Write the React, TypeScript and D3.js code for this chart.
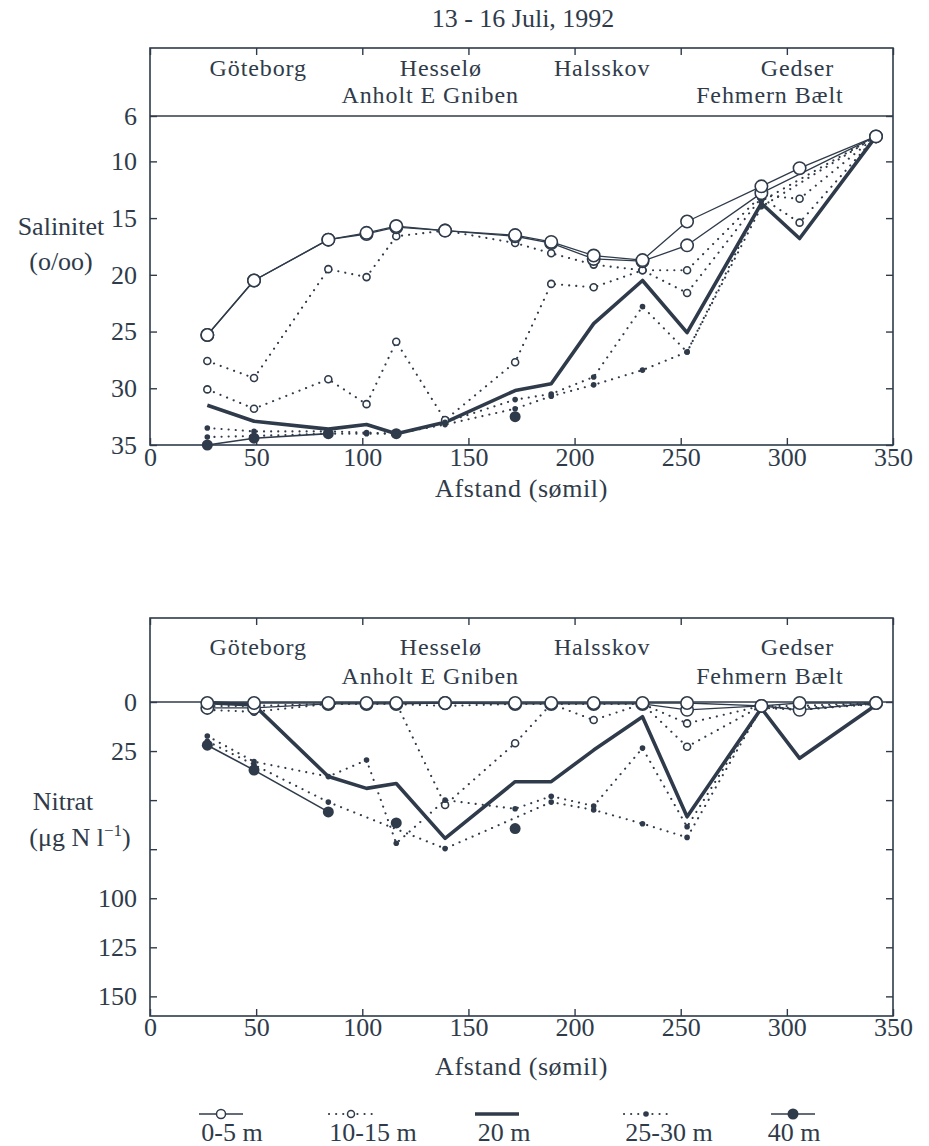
import React, { useRef, useEffect } from 'react';
import * as d3 from 'd3';

// station distances along the transect (sømil)
const stations = [27, 49, 84, 102, 116, 139, 172, 189, 209, 232, 253, 288, 306, 342];

// salinity (o/oo) by depth, null = no sample
const salt0 = [25.3, 20.5, 16.9, 16.3, 15.7, 16.1, 16.5, 17.1, 18.3, 18.7, 15.3, 12.2, 10.6, 7.8];
const salt5 = [25.3, 20.5, 16.9, 16.4, 15.8, 16.1, 16.6, 17.2, 18.6, 18.8, 17.4, 12.8, null, 7.8];
const salt10 = [27.6, 29.1, 19.5, 20.2, 16.6, 16.1, 17.2, 18.1, 19.1, 19.6, 19.6, 13.0, 13.3, 7.8];
const salt15 = [30.1, 31.8, 29.2, 31.4, 25.9, 32.8, 27.7, 20.8, 21.1, 19.6, 21.6, 13.2, 15.4, 7.8];
const salt20 = [31.5, 32.9, 33.6, 33.2, 34.0, 33.0, 30.2, 29.6, 24.3, 20.5, 25.1, 13.7, 16.8, 7.8];
const salt25 = [33.5, 33.8, 33.8, 33.9, 34.0, 33.0, 31.0, 30.5, 29.0, 22.8, 26.8, 13.5, null, 7.8];
const salt30 = [34.3, 34.2, 34.0, 34.0, 34.0, 33.2, 31.8, 30.7, 29.7, 28.4, 26.8, 14.0, null, 7.8];
const salt40 = [35.0, 34.4, 34.0, null, 34.0, null, 32.5, null, null, null, null, null, null, null];

// nitrate (µg N/l) by depth
const nit0 = [0.5, 0.5, 0.5, 0.5, 0.5, 0.5, 0.5, 0.5, 0.5, 0.5, 0.5, 2, 0.5, 0.5];
const nit5 = [3, 3, 1, 1, 1, 0.5, 1, 1, 1, 1, 4, 2, 4, 0.5];
const nit10 = [2, 2, 1, 0.5, 0.5, 52.5, 21, 1, 9.2, 1, 10.9, 2, 2, 0.5];
const nit15 = [4, 5, 1, 1, 1, 2, 1, 1, 1, 1, 22.8, 2, 4, 0.5];
const nit20 = [0.3, 1.5, 38, 44, 41.5, 69.5, 40.6, 40.6, 24.5, 7.5, 58.5, 3.2, 28.7, 1.5];
const nit25 = [17.3, 30.4, 38, 29.6, 72, 50, 54.4, 48, 53, 23.5, 63.6, 3, 3, 1];
const nit30 = [20, 32, 51, null, null, 74.7, null, 51, 55, 62, 69, 3, 4, 1];
const nit40 = [22, 34.7, 56, null, 61.6, null, 64.5, null, null, null, null, null, null, null];

// place names printed in the top band, positioned in sømil
const placeNames = ['Göteborg', 'Hesselø', 'Anholt E Gniben', 'Halsskov', 'Gedser', 'Fehmern Bælt'];
const placeAt = [51, 137, 132, 213, 305, 292];
const placeRow = [0, 0, 1, 0, 0, 1];

const distTicks = [0, 50, 100, 150, 200, 250, 300, 350];
const saltTicks = [6, 10, 15, 20, 25, 30, 35];
const nitTicks = [0, 25, 50, 75, 100, 125, 150];
const nitTickLabels = [0, 25, 100, 125, 150];
const depthGroups = ['0-5 m', '10-15 m', '20 m', '25-30 m', '40 m'];

const INK = '#2f3b4a';
const SERIF = '"Liberation Serif", "DejaVu Serif", serif';

// drawing style for each depth group
const groupStyle = {
  '0-5 m': { dash: null, width: 1.3, mark: 'ring', r: 6.2, gaps: false },
  '10-15 m': { dash: '0.1 7', width: 2.1, mark: 'ring', r: 3.5, gaps: false },
  '20 m': { dash: null, width: 3.6, mark: null, r: 0, gaps: false },
  '25-30 m': { dash: '0.1 7', width: 2.1, mark: 'dot', r: 2.8, gaps: false },
  '40 m': { dash: null, width: 1.6, mark: 'dot', r: 5.5, gaps: true },
};

const App = () => {
  const myRef = useRef(null);

  useEffect(() => {
    const svg = d3.select(myRef.current);
    svg.selectAll('*').remove();

    const x = d3.scaleLinear().domain([0, 350]).range([150, 893]);

    svg.append('text')
      .attr('x', 523).attr('y', 27)
      .attr('text-anchor', 'middle')
      .attr('font-family', SERIF).attr('font-size', 26).attr('fill', INK)
      .text('13 - 16 Juli, 1992');

    const panel = (cfg) => {
      const y = d3.scaleLinear().domain(cfg.domain).range([cfg.band, cfg.bottom]);
      const g = svg.append('g').attr('font-family', SERIF).attr('font-size', 26).attr('fill', INK);

      // frame and band line
      g.append('rect')
        .attr('x', x(0)).attr('y', cfg.top)
        .attr('width', x(350) - x(0)).attr('height', cfg.bottom - cfg.top)
        .attr('fill', 'none').attr('stroke', INK).attr('stroke-width', 1.6);
      g.append('line')
        .attr('x1', x(0)).attr('x2', x(350))
        .attr('y1', y(cfg.domain[0])).attr('y2', y(cfg.domain[0]))
        .attr('stroke', INK).attr('stroke-width', 1.6);

      const style = (sel) => {
        sel.select('.domain').remove();
        sel.attr('font-family', SERIF).attr('font-size', 26);
        sel.selectAll('line').attr('stroke', INK).attr('stroke-width', 1.4);
        sel.selectAll('text').attr('fill', INK);
      };

      g.append('g').attr('transform', `translate(${x(0)},0)`)
        .call(d3.axisLeft(y).tickValues(cfg.ticks).tickSizeInner(-7).tickSizeOuter(0).tickPadding(13)
          .tickFormat((d) => (cfg.labels.includes(d) ? String(d) : '')))
        .call(style);
      g.append('g').attr('transform', `translate(${x(350)},0)`)
        .call(d3.axisRight(y).tickValues(cfg.ticks).tickSizeInner(-7).tickSizeOuter(0).tickFormat(() => ''))
        .call(style);
      g.append('g').attr('transform', `translate(0,${cfg.bottom})`)
        .call(d3.axisBottom(x).tickValues(distTicks).tickSizeInner(-7).tickSizeOuter(0).tickPadding(cfg.xPad))
        .call(style);
      g.append('g').attr('transform', `translate(0,${cfg.top})`)
        .call(d3.axisTop(x).tickValues(distTicks).tickSizeInner(-7).tickSizeOuter(0).tickFormat(() => ''))
        .call(style);

      // place names
      placeNames.forEach((name, i) => {
        g.append('text')
          .attr('x', x(placeAt[i])).attr('y', cfg.rows[placeRow[i]])
          .attr('text-anchor', 'middle')
          .attr('font-size', 24)
          .attr('letter-spacing', 0.9)
          .text(name);
      });

      g.append('text')
        .attr('x', x(175)).attr('y', cfg.titleY)
        .attr('text-anchor', 'middle')
        .attr('letter-spacing', 0.6)
        .text('Afstand (sømil)');

      // y title
      cfg.yTitle(g);

      // data
      const plot = g.append('g');
      const line = d3.line()
        .defined((d) => d[1] != null)
        .x((d) => x(d[0]))
        .y((d) => y(d[1]));

      const drawn = cfg.series.map((s) => {
        const st = groupStyle[s.group];
        let pts = stations.map((st2, i) => [st2, s.values[i]]);
        if (!st.gaps) pts = pts.filter((p) => p[1] != null);
        return { pts, st };
      });

      drawn.forEach(({ pts, st }) => {
        plot.append('path')
          .attr('d', line(pts))
          .attr('fill', 'none')
          .attr('stroke', INK)
          .attr('stroke-width', st.width)
          .attr('stroke-linecap', st.dash ? 'round' : 'butt')
          .attr('stroke-linejoin', 'round')
          .attr('stroke-dasharray', st.dash);
      });

      drawn.forEach(({ pts, st }) => {
        if (!st.mark) return;
        plot.selectAll(null)
          .data(pts.filter((p) => p[1] != null))
          .join('circle')
          .attr('cx', (d) => x(d[0]))
          .attr('cy', (d) => y(d[1]))
          .attr('r', st.r)
          .attr('fill', st.mark === 'ring' ? 'white' : INK)
          .attr('stroke', INK)
          .attr('stroke-width', st.mark === 'ring' ? 1.6 : 0);
      });
    };

    panel({
      top: 48, band: 116, bottom: 445, xPad: 3,
      domain: [6, 35], ticks: saltTicks, labels: saltTicks,
      rows: [76, 103], titleY: 497,
      series: [
        { values: salt15, group: '10-15 m' }, { values: salt10, group: '10-15 m' },
        { values: salt30, group: '25-30 m' }, { values: salt25, group: '25-30 m' },
        { values: salt40, group: '40 m' }, { values: salt20, group: '20 m' },
        { values: salt5, group: '0-5 m' }, { values: salt0, group: '0-5 m' },
      ],
      yTitle: (g) => {
        g.append('text').attr('x', 61).attr('y', 235).attr('text-anchor', 'middle').text('Salinitet');
        g.append('text').attr('x', 61).attr('y', 270).attr('text-anchor', 'middle').text('(o/oo)');
      },
    });

    panel({
      top: 618, band: 702, bottom: 1016, xPad: 2,
      domain: [0, 160], ticks: nitTicks, labels: nitTickLabels,
      rows: [655, 684], titleY: 1075,
      series: [
        { values: nit15, group: '10-15 m' }, { values: nit10, group: '10-15 m' },
        { values: nit30, group: '25-30 m' }, { values: nit25, group: '25-30 m' },
        { values: nit40, group: '40 m' }, { values: nit20, group: '20 m' },
        { values: nit5, group: '0-5 m' }, { values: nit0, group: '0-5 m' },
      ],
      yTitle: (g) => {
        g.append('text').attr('x', 63).attr('y', 810).attr('text-anchor', 'middle').text('Nitrat');
        const t = g.append('text').attr('x', 80).attr('y', 846).attr('text-anchor', 'middle');
        t.append('tspan').text('(μg N l');
        t.append('tspan').attr('dy', -10).attr('font-size', 17).text('−1');
        t.append('tspan').attr('dy', 10).text(')');
      },
    });

    // legend
    const symX = [221, 351, 497, 646, 793];
    const labX = [232, 373, 504, 669, 794];
    const lg = svg.append('g').attr('font-family', SERIF).attr('font-size', 26).attr('fill', INK);
    depthGroups.forEach((name, i) => {
      const st = groupStyle[name];
      lg.append('line')
        .attr('x1', symX[i] - 22).attr('x2', symX[i] + 22)
        .attr('y1', 1114).attr('y2', 1114)
        .attr('stroke', INK).attr('stroke-width', st.width)
        .attr('stroke-linecap', st.dash ? 'round' : 'butt')
        .attr('stroke-dasharray', st.dash);
      if (st.mark) {
        lg.append('circle')
          .attr('cx', symX[i]).attr('cy', 1114)
          .attr('r', st.mark === 'ring' ? Math.min(st.r, 4.5) : st.r)
          .attr('fill', st.mark === 'ring' ? 'white' : INK)
          .attr('stroke', INK).attr('stroke-width', st.mark === 'ring' ? 1.5 : 0);
      }
      lg.append('text').attr('x', labX[i]).attr('y', 1141).attr('text-anchor', 'middle').text(name);
    });
  }, []);

  return (
    <svg ref={myRef} width={929} height={1146} style={{ position: 'absolute', left: 0, top: 0, background: 'white' }}></svg>
  );
};

export default App;
